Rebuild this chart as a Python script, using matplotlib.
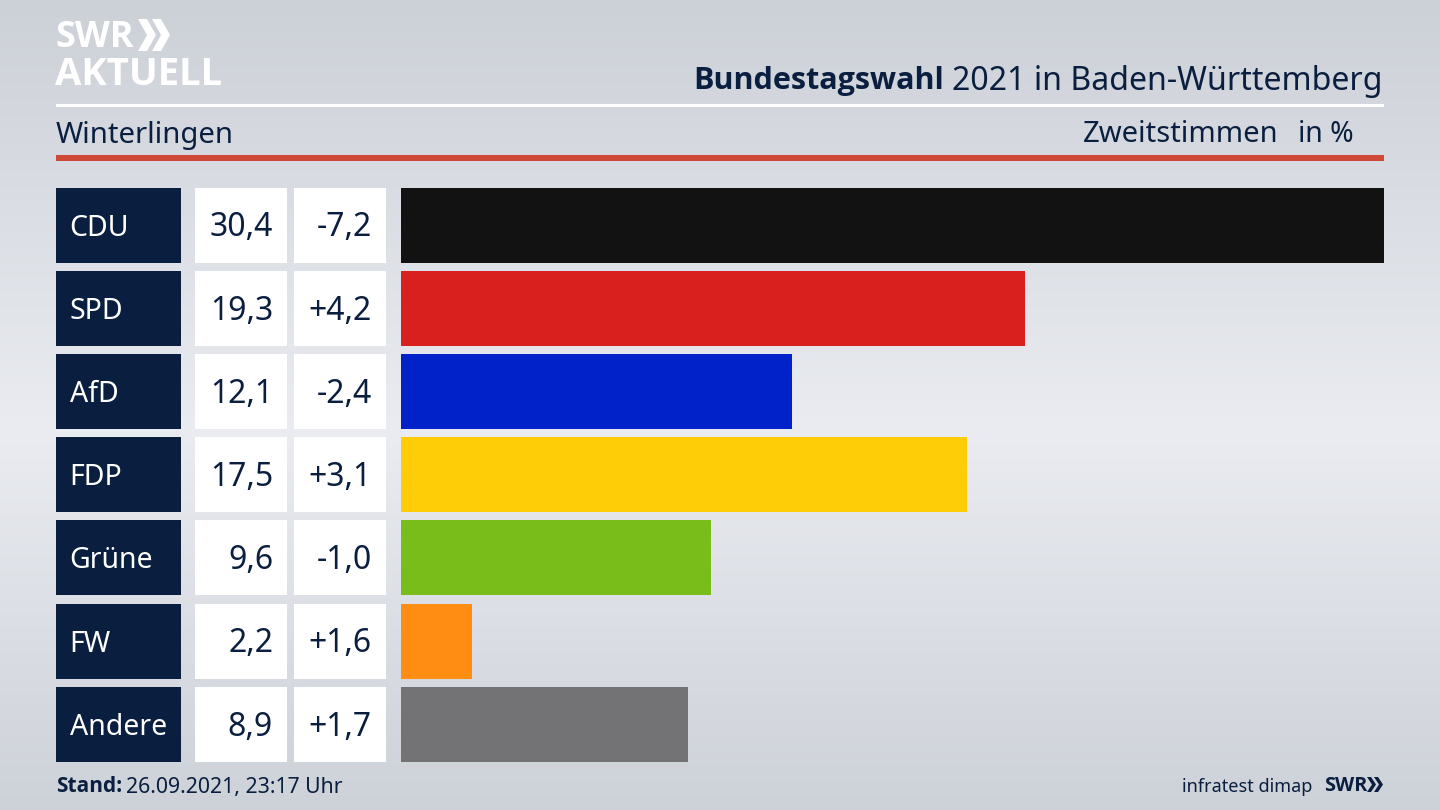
import matplotlib
matplotlib.use("Agg")
import matplotlib.pyplot as plt
import numpy as np
from matplotlib.patches import Rectangle, Polygon

parteien = ["CDU", "SPD", "AfD", "FDP", "Grüne", "FW", "Andere"]
werte = [30.4, 19.3, 12.1, 17.5, 9.6, 2.2, 8.9]
diffs = ["-7,2", "+4,2", "-2,4", "+3,1", "-1,0", "+1,6", "+1,7"]
farben = ["#121212", "#da201e", "#0022c8", "#ffcc08", "#78bd1a", "#ff8d14", "#737375"]

NAVY = "#0a1f3f"
FETT = ["Open Sans", "DejaVu Sans"]  # Noto Sans hat hier keinen fetten Schnitt
plt.rcParams["font.family"] = ["Noto Sans", "DejaVu Sans"]

fig = plt.figure(figsize=(14.4, 8.1), dpi=100)

# Ganze Flaeche in Pixelkoordinaten
bg = fig.add_axes([0, 0, 1, 1])
bg.set_xlim(0, 1440)
bg.set_ylim(810, 0)
bg.axis("off")

# Hintergrund: grauer Verlauf, in der Mitte heller
stops_y = [0, 430, 810]
stops_c = np.array([[204, 208, 215], [234, 236, 241], [205, 209, 216]]) / 255
yy = np.arange(810)
verlauf = np.stack([np.interp(yy, stops_y, stops_c[:, i]) for i in range(3)], axis=1)[:, None, :]
bg.imshow(verlauf, extent=(0, 1440, 810, 0), aspect="auto", zorder=0)


def rechteck(x, y, b, h, farbe):
    bg.add_patch(Rectangle((x, y), b, h, facecolor=farbe, linewidth=0, zorder=2))


def pfeile(x, y, b, h, dx, dicke, farbe):
    # Doppelpfeil vom SWR-Logo
    for d in (0, dx):
        bg.add_patch(Polygon([[x + d, y], [x + d + dicke, y], [x + d + b, y + h / 2],
                              [x + d + dicke, y + h], [x + d, y + h], [x + d + b - dicke, y + h / 2]],
                             closed=True, facecolor=farbe, linewidth=0, zorder=2))


# Logo oben links
bg.text(55, 38, "SWR", color="white", fontsize=26, family=FETT, fontweight="bold", va="center", ha="left")
pfeile(138, 19, 18, 32, 14, 9, "white")
bg.text(55, 75, "AKTUELL", color="white", fontsize=27.5, family=FETT, fontweight="bold", va="center", ha="left")

# Kopfzeile
bg.text(944, 81, "Bundestagswahl", color=NAVY, fontsize=22, family=FETT, fontweight="bold", va="center", ha="right")
bg.text(1383, 81, "2021 in Baden-Württemberg", color=NAVY, fontsize=23.1, va="center", ha="right")
rechteck(56, 104, 1328, 3, "white")
bg.text(56, 135, "Winterlingen", color=NAVY, fontsize=21.1, va="center", ha="left")
bg.text(1278, 135, "Zweitstimmen", color=NAVY, fontsize=21, va="center", ha="right")
bg.text(1354, 135, "in %", color=NAVY, fontsize=20.4, va="center", ha="right")
rechteck(56, 155, 1328, 5.5, "#cf4a38")

# Tabelle links
zeile_h = 75
zeile_abstand = 83.2
for i, partei in enumerate(parteien):
    y0 = 187.5 + i * zeile_abstand
    ym = y0 + zeile_h / 2 + 3
    rechteck(56, y0, 125, zeile_h, NAVY)
    rechteck(195, y0, 92, zeile_h, "white")
    rechteck(294, y0, 92, zeile_h, "white")
    bg.text(69.5, ym, partei, color="white", fontsize=20.5, va="center", ha="left", zorder=3)
    bg.text(273, ym, f"{werte[i]:.1f}".replace(".", ","), color=NAVY, fontsize=23, va="center", ha="right", zorder=3)
    bg.text(372, ym, diffs[i], color=NAVY, fontsize=23, va="center", ha="right", zorder=3)

# Fusszeile
bg.text(56, 787, "Stand:", color=NAVY, fontsize=15, family=FETT, fontweight="bold", va="center", ha="left")
bg.text(126, 788, "26.09.2021, 23:17 Uhr", color=NAVY, fontsize=15.3, va="center", ha="left")
bg.text(1312, 787, "infratest dimap", color=NAVY, fontsize=13, va="center", ha="right")
bg.text(1324, 786, "SWR", color=NAVY, fontsize=14.3, family=FETT, fontweight="bold", va="center", ha="left")
pfeile(1367, 777, 9, 15, 7, 4, NAVY)

# Balken
ax = fig.add_axes([400.5 / 1440, 1 - (187.5 + 6 * zeile_abstand + zeile_h) / 810, 983.5 / 1440,
                   (6 * zeile_abstand + zeile_h) / 810])
ax.patch.set_alpha(0)
ypos = np.arange(len(parteien))
ax.barh(ypos, werte, height=zeile_h / zeile_abstand, color=farben)
ax.set_xlim(0, max(werte))
ax.set_ylim(len(parteien) - 1 + zeile_h / zeile_abstand / 2, -zeile_h / zeile_abstand / 2)
ax.axis("off")

fig.savefig("out.png", dpi=100)
